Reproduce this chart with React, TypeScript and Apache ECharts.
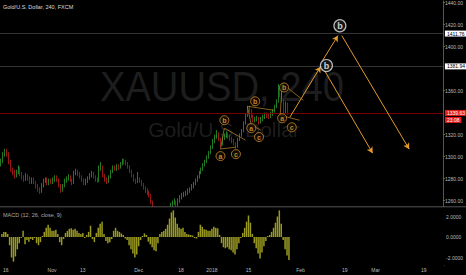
import React, { useEffect, useRef } from 'react';
import * as echarts from 'echarts';

// ---- data ----
const SLOT_COUNT = 230; // 2 bars per trading day, including future space

// [open, close, low, high]
const candles: number[][] = [
  [1293, 1296, 1291, 1298], [1296, 1302, 1294, 1304], [1302, 1305, 1300, 1307], [1305, 1303, 1300, 1307],
  [1303, 1295, 1293, 1304], [1295, 1288, 1286, 1297], [1288, 1286, 1283, 1290], [1286, 1282, 1280, 1288],
  [1282, 1286, 1281, 1288], [1286, 1290, 1284, 1292], [1290, 1284, 1282, 1291], [1284, 1281, 1279, 1286],
  [1281, 1279, 1277, 1283], [1279, 1283, 1278, 1285], [1283, 1280, 1278, 1284], [1280, 1277, 1275, 1282],
  [1277, 1279, 1275, 1281], [1279, 1277, 1275, 1281], [1277, 1273, 1271, 1278], [1273, 1270, 1268, 1275],
  [1270, 1268, 1266, 1272], [1268, 1274, 1267, 1276], [1274, 1278, 1272, 1280], [1278, 1279, 1276, 1281],
  [1279, 1276, 1274, 1281], [1276, 1278, 1274, 1280], [1278, 1277, 1275, 1280], [1277, 1279, 1275, 1281],
  [1279, 1281, 1277, 1283], [1281, 1279, 1277, 1283], [1279, 1274, 1272, 1280], [1274, 1269, 1267, 1275],
  [1269, 1273, 1268, 1275], [1273, 1278, 1272, 1280], [1278, 1280, 1276, 1282], [1280, 1282, 1278, 1284],
  [1282, 1279, 1277, 1283], [1279, 1276, 1274, 1280], [1276, 1285, 1275, 1287], [1285, 1287, 1283, 1289],
  [1287, 1284, 1282, 1288], [1284, 1282, 1280, 1286], [1282, 1279, 1277, 1283], [1279, 1276, 1274, 1280],
  [1276, 1278, 1274, 1280], [1278, 1280, 1276, 1282], [1280, 1283, 1279, 1285], [1283, 1285, 1281, 1287],
  [1285, 1282, 1280, 1286], [1282, 1279, 1277, 1283], [1279, 1278, 1276, 1281], [1278, 1290, 1277, 1292],
  [1290, 1291, 1287, 1295], [1291, 1283, 1281, 1292], [1283, 1279, 1277, 1284], [1279, 1277, 1275, 1281],
  [1277, 1281, 1276, 1283], [1281, 1286, 1280, 1288], [1286, 1290, 1285, 1292], [1290, 1289, 1287, 1292],
  [1289, 1291, 1287, 1293], [1291, 1290, 1288, 1293], [1290, 1293, 1289, 1295], [1293, 1296, 1292, 1298],
  [1296, 1295, 1293, 1298], [1295, 1294, 1292, 1297], [1294, 1291, 1289, 1295], [1291, 1287, 1285, 1292],
  [1287, 1283, 1281, 1288], [1283, 1279, 1277, 1284], [1279, 1277, 1275, 1280], [1277, 1280, 1276, 1286],
  [1280, 1278, 1276, 1281], [1278, 1275, 1273, 1279], [1275, 1272, 1270, 1276], [1272, 1269, 1267, 1273],
  [1269, 1267, 1265, 1271], [1267, 1265, 1263, 1269], [1265, 1259, 1257, 1266], [1259, 1254, 1252, 1260],
  [1254, 1250, 1248, 1255], [1250, 1246, 1244, 1251], [1246, 1244, 1242, 1248], [1244, 1241, 1239, 1245],
  [1241, 1238, 1236, 1242], [1238, 1240, 1236, 1242], [1240, 1245, 1239, 1247], [1245, 1252, 1244, 1254],
  [1252, 1256, 1250, 1258], [1256, 1258, 1254, 1260], [1258, 1259, 1256, 1262], [1259, 1256, 1254, 1260],
  [1256, 1260, 1255, 1262], [1260, 1263, 1258, 1265], [1263, 1265, 1261, 1267], [1265, 1266, 1263, 1268],
  [1266, 1267, 1264, 1269], [1267, 1269, 1265, 1271], [1269, 1270, 1267, 1272], [1270, 1273, 1269, 1275],
  [1273, 1275, 1271, 1277], [1275, 1278, 1274, 1280], [1278, 1281, 1277, 1283], [1281, 1285, 1280, 1287],
  [1285, 1288, 1284, 1290], [1288, 1292, 1287, 1294], [1292, 1295, 1291, 1297], [1295, 1299, 1294, 1301],
  [1299, 1303, 1298, 1305], [1303, 1308, 1302, 1310], [1308, 1314, 1307, 1316], [1314, 1318, 1312, 1320],
  [1318, 1320, 1316, 1324], [1320, 1316, 1314, 1322], [1316, 1311, 1309, 1317], [1311, 1316, 1310, 1318],
  [1316, 1319, 1315, 1321], [1319, 1321, 1317, 1323], [1321, 1318, 1316, 1322], [1318, 1316, 1314, 1320],
  [1316, 1314, 1312, 1318], [1314, 1312, 1310, 1316], [1312, 1309, 1307, 1313], [1309, 1315, 1308, 1317],
  [1315, 1319, 1314, 1321], [1319, 1323, 1318, 1325], [1323, 1330, 1322, 1332], [1330, 1337, 1329, 1339],
  [1337, 1344, 1336, 1346], [1344, 1342, 1340, 1346], [1342, 1337, 1335, 1343], [1337, 1333, 1331, 1338],
  [1333, 1334, 1331, 1336], [1334, 1335, 1332, 1337], [1335, 1331, 1329, 1336], [1331, 1334, 1330, 1336],
  [1334, 1336, 1332, 1338], [1336, 1338, 1334, 1340], [1338, 1337, 1335, 1340], [1337, 1336, 1334, 1339],
  [1336, 1339, 1335, 1341], [1339, 1341, 1337, 1343], [1341, 1345, 1340, 1347], [1345, 1350, 1344, 1352],
  [1350, 1358, 1349, 1366], [1358, 1357, 1354, 1362], [1357, 1351, 1349, 1358], [1351, 1340, 1337, 1352],
  [1340, 1348, 1339, 1350], [1348, 1339.63, 1338, 1349],
];

const macdHist: number[] = [
  0.3, 0.5, 0.5, 0.3, -0.8, -2.0, -2.4, -1.9, -1.2, -0.6,
  -0.1, 0.6, -0.7, -0.3, -0.45, -0.2, -0.3, -0.1, -0.6, -0.8,
  -0.5, 0.1, 0.5, 0.9, 1.2, 0.9, 0.6, 0.6, 0.7, 0.3,
  -0.5, -0.8, -0.2, 0.4, 0.6, 0.8, 0.85, 0.7, 0.8, 0.6,
  0.4, 0.3, 0.4, -0.1, 0.2, 0.5, 1.1, -0.2, -0.5, 0.4,
  0.9, 1.3, 1.5, 0.3, -0.4, -0.6, -0.5, -0.2, 0.6, 0.9,
  0.6, 0.5, 0.35, 0.2, -0.15, -0.3, -0.8, -1.2, -1.6, -2.0,
  -1.7, -0.9, -0.3, 0.1, 0.35, 0.2, -0.45, -0.7, -1.0, -1.3,
  -1.4, -0.6, 0.3, 0.5, 0.6, 0.8, 1.2, 1.8, 2.4, 2.6,
  1.9, 1.3, 0.9, 0.8, 0.9, 0.5, 0.3, 0.25, 0.2, 0.15,
  -0.1, -0.15, 0.5, 1.2, 1.0, 0.75, 0.7, 0.6, 0.6, 0.8,
  1.0, 0.9, 0.85, 0.2, -0.6, -1.0, -1.1, -1.0, -1.2, -1.3,
  -1.5, -1.7, -1.2, -0.6, -0.1, 0.4, 0.9, 1.5, 2.1, 1.4,
  0.3, -0.6, -1.1, -1.6, -2.1, -1.5, -0.9, -0.4, 0.1, 0.2,
  0.5, 0.9, 1.4, 2.0, 2.6, 1.3, -0.3, -1.2, -1.8, -2.25,
];

const priceTicks = [1260, 1280, 1300, 1320, 1360, 1400, 1420, 1440];
const macdTicks = [-2, 0, 2];
const dateTickSlots = [2, 26, 42, 71, 93, 109, 128, 155, 178, 194, 219];
const dateTickLabels = ['16', 'Nov', '13', 'Dec', '18', '2018', '15', 'Feb', '19', 'Mar', '19'];
const levelLines = [1411.76, 1381.94];
const lastPrice = 1339.63;
const countdown = '23:08';

// [slot, price, letter]
const waveLabels: [number, number, string][] = [
  [116, 1333.0, 'b'], [114, 1300.4, 'a'], [122, 1302.2, 'c'],
  [132, 1350.2, 'b'], [130, 1325.8, 'a'], [134, 1317.7, 'c'],
  [147, 1362.8, 'b'], [146, 1334.8, 'a'], [151, 1326.6, 'c'],
];
const targetLabels: [number, number, string][] = [
  [169, 1382.7, 'b'], [176, 1418.9, 'b'],
];
// [[slot, price], [slot, price]]
const arrows: number[][][] = [
  [[150, 1335.7], [166, 1381.8]],
  [[167, 1387.3], [175, 1409.9]],
  [[168, 1378.2], [193, 1303.1]],
  [[177, 1409.9], [212, 1306.7]],
];
const waveLines: number[][][] = [
  [[116, 1325.8], [114, 1306.8]], [[114, 1306.8], [122, 1308.6]], [[116, 1325.8], [127, 1314.9]],
  [[128, 1345.7], [142, 1342.0]], [[128, 1345.7], [130, 1328.5]], [[130, 1328.5], [135, 1324.0]],
  [[146, 1366.5], [145, 1337.5]], [[146, 1366.5], [157, 1351.1]], [[145, 1337.5], [155, 1333.0]],
];

const FONT = 'Liberation Sans, Arial, sans-serif';
const ORANGE = '#e39a2d';

export default function App() {
  const ref = useRef<HTMLDivElement>(null);
  useEffect(() => {
    document.body.style.margin = '0';
    document.body.style.background = '#000';
    if (!ref.current) return;
    const chart = echarts.init(ref.current, undefined, { renderer: 'svg' });
    const slots = Array.from({ length: SLOT_COUNT }, (_, i) => 's' + i);
    const showTick = (idx: number) => dateTickSlots.indexOf(idx) >= 0;

    const markLineData: any[] = [];
    levelLines.forEach((v) => {
      markLineData.push({
        yAxis: v,
        lineStyle: { color: '#333', width: 1, type: 'solid' },
        label: {
          show: true, position: 'end', distance: 2, formatter: v.toFixed(2),
          backgroundColor: '#fff', color: '#000', fontSize: 5, fontFamily: FONT, padding: [1, 2, 0, 2],
        },
      });
    });
    markLineData.push({
      yAxis: lastPrice,
      lineStyle: { color: '#7a0000', width: 1, type: 'solid' },
      label: {
        show: true, position: 'end', distance: 2,
        formatter: '{a|' + lastPrice.toFixed(2) + '}\n{b|' + countdown + '}',
        offset: [0, 3.5],
        rich: {
          a: { backgroundColor: '#e21b1b', color: '#fff', fontSize: 5, fontFamily: FONT, padding: [1, 2, 0, 2], lineHeight: 7 },
          b: { backgroundColor: '#e21b1b', color: '#fff', fontSize: 5, fontFamily: FONT, padding: [1, 2, 0, 2], lineHeight: 7 },
        },
      },
    });
    arrows.forEach((a) => {
      markLineData.push([
        { coord: a[0], symbol: 'none', lineStyle: { color: ORANGE, width: 1, type: 'solid' }, label: { show: false } },
        { coord: a[1], symbol: 'arrow', symbolSize: [5, 6] },
      ]);
    });
    waveLines.forEach((a) => {
      markLineData.push([
        { coord: a[0], symbol: 'none', lineStyle: { color: '#b8862e', width: 0.8, type: 'solid', opacity: 0.9 }, label: { show: false } },
        { coord: a[1], symbol: 'none' },
      ]);
    });

    chart.setOption({
      animation: false,
      backgroundColor: '#000',
      grid: [
        { left: 0, top: 0, width: 446, height: 206.5 },
        { left: 0, top: 207, width: 446, height: 58.7 },
      ],
      xAxis: [
        { type: 'category', gridIndex: 0, data: slots, boundaryGap: true, show: false },
        {
          type: 'category', gridIndex: 1, data: slots, boundaryGap: true,
          axisLine: { show: true, lineStyle: { color: '#555' } },
          axisTick: { show: true, alignWithLabel: true, length: 2, interval: (i: number) => showTick(i), lineStyle: { color: '#555' } },
          axisLabel: {
            interval: (i: number) => showTick(i),
            formatter: (_v: string, i: number) => {
              const k = dateTickSlots.indexOf(i);
              return k >= 0 ? dateTickLabels[k] : '';
            },
            fontSize: 5, color: '#bbb', fontFamily: FONT, margin: 2,
          },
          splitLine: { show: false },
        },
      ],
      yAxis: [
        {
          type: 'value', gridIndex: 0, position: 'right', min: 1254.6, max: 1441.5,
          splitLine: { show: false },
          axisLine: { show: true, lineStyle: { color: '#555' } },
          axisTick: { show: true, length: 2, customValues: priceTicks, lineStyle: { color: '#666' } },
          axisLabel: {
            customValues: priceTicks, formatter: (v: number) => v.toFixed(2),
            fontSize: 5, color: '#bbb', fontFamily: FONT, margin: 2,
          },
        },
        {
          type: 'value', gridIndex: 1, position: 'right', min: -2.8, max: 2.93,
          splitLine: { show: false },
          axisLine: { show: true, lineStyle: { color: '#555' } },
          axisTick: { show: true, length: 2, customValues: macdTicks, lineStyle: { color: '#666' } },
          axisLabel: {
            customValues: macdTicks, formatter: (v: number) => v.toFixed(4),
            fontSize: 5, color: '#bbb', fontFamily: FONT, margin: 2,
          },
        },
      ],
      graphic: [
        {
          type: 'text', x: 222, y: 87, z: 0, scaleX: 0.91,
          style: { text: 'XAUUSD, 240', fontSize: 42, fontFamily: FONT, fill: '#1d1d1d', align: 'center', verticalAlign: 'middle' },
        },
        {
          type: 'text', x: 224, y: 129, z: 0,
          style: { text: 'Gold/U.S. Dollar', fontSize: 21, fontFamily: FONT, fill: '#1d1d1d', align: 'center', verticalAlign: 'middle' },
        },
        {
          type: 'rect', z: 4, shape: { x: 0, y: 207, width: 446, height: 58.4 },
          style: { fill: '#000' },
        },
        {
          type: 'text', x: 3, y: 7, z: 100,
          style: { text: 'Gold/U.S. Dollar, 240, FXCM', fontSize: 5.5, fontFamily: FONT, fill: '#ddd', align: 'left', verticalAlign: 'middle' },
        },
        {
          type: 'text', x: 3, y: 215, z: 100,
          style: { text: 'MACD (12, 26, close, 9)', fontSize: 5.5, fontFamily: FONT, fill: '#aaa', align: 'left', verticalAlign: 'middle' },
        },
        {
          type: 'line', z: 100, shape: { x1: 0, y1: 206.8, x2: 466, y2: 206.8 },
          style: { stroke: '#555', lineWidth: 1 },
        },
      ],
      series: [
        {
          type: 'candlestick', xAxisIndex: 0, yAxisIndex: 0, data: candles, barWidth: 1.2, clip: true,
          itemStyle: { color: '#2fb030', color0: '#d82020', borderColor: '#2fb030', borderColor0: '#d82020', borderWidth: 0.7 },
          markLine: { silent: true, symbol: ['none', 'none'], animation: false, data: markLineData },
          z: 3,
        },
        {
          type: 'bar', xAxisIndex: 1, yAxisIndex: 1, data: macdHist, barWidth: 1.5, z: 5,
          itemStyle: { color: '#9a9a22' },
        },
        {
          type: 'scatter', xAxisIndex: 0, yAxisIndex: 0, z: 6,
          data: waveLabels.map((w) => [w[0], w[1], w[2]]),
          symbol: 'circle', symbolSize: 9,
          itemStyle: { color: '#140c02', borderColor: ORANGE, borderWidth: 0.9 },
          label: {
            show: true, position: 'inside', formatter: (p: any) => p.value[2],
            color: '#f0a83a', fontSize: 7, fontFamily: FONT, fontWeight: 'bold',
          },
        },
        {
          type: 'scatter', xAxisIndex: 0, yAxisIndex: 0, z: 6,
          data: targetLabels.map((w) => [w[0], w[1], w[2]]),
          symbol: 'circle', symbolSize: 12,
          itemStyle: { color: '#1a1a1a', borderColor: '#e8e8e8', borderWidth: 1.2 },
          label: {
            show: true, position: 'inside', formatter: (p: any) => p.value[2],
            color: '#fff', fontSize: 9, fontFamily: FONT, fontWeight: 'bold',
          },
        },
      ],
    });
    return () => chart.dispose();
  }, []);
  return <div ref={ref} style={{ width: 466, height: 275, background: '#000' }} />;
}
